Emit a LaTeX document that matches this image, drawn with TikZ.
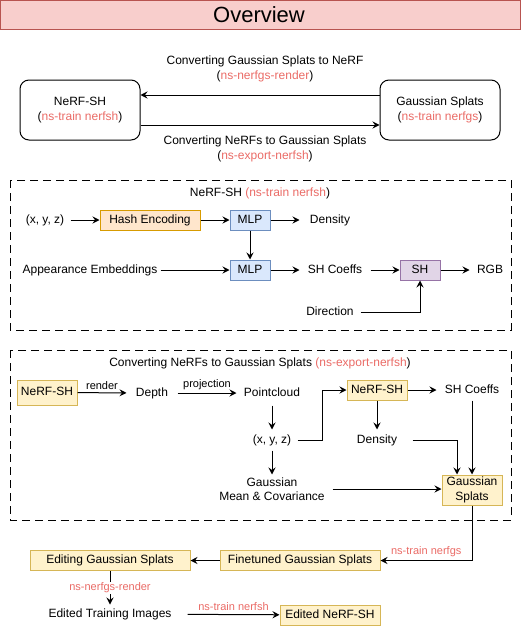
\documentclass[tikz,border=0pt]{standalone}
\usepackage{fontspec}
\setmainfont{Liberation Sans}
\usetikzlibrary{arrows.meta,positioning}

\definecolor{nsred}{HTML}{EA6B66}
\definecolor{titlefill}{HTML}{F8CECC}
\definecolor{titledraw}{HTML}{B85450}
\definecolor{orangefill}{HTML}{FFE6CC}
\definecolor{orangedraw}{HTML}{D79B00}
\definecolor{bluefill}{HTML}{DAE8FC}
\definecolor{bluedraw}{HTML}{6C8EBF}
\definecolor{purplefill}{HTML}{E1D5E7}
\definecolor{purpledraw}{HTML}{9673A6}
\definecolor{yellowfill}{HTML}{FFF2CC}
\definecolor{yellowdraw}{HTML}{D6B656}

\newcommand{\cmd}[1]{\textcolor{nsred}{#1}}

\tikzset{
  txt/.style={inner sep=0pt, align=center, font=\fontsize{12}{14.4}\selectfont,
    text height=0.905em, text depth=0.212em},
  twoline/.style={inner sep=0pt, align=center, font=\fontsize{12}{14.4}\selectfont,
    text height=, text depth=},
  lbl/.style={inner sep=0pt, font=\fontsize{11}{13}\selectfont, text=nsred},
  box/.style={txt, draw, minimum height=20pt},
  roundbox/.style={twoline, draw, rounded corners=9pt, minimum width=120pt, minimum height=60pt},
  hashbox/.style={box, fill=orangefill, draw=orangedraw},
  mlpbox/.style={box, fill=bluefill, draw=bluedraw},
  shbox/.style={box, fill=purplefill, draw=purpledraw},
  nerfbox/.style={box, fill=yellowfill, draw=yellowdraw},
  dashbox/.style={draw, dash pattern=on 8pt off 5pt},
  arr/.style={-{Stealth[length=7pt, width=7pt, inset=2.5pt]}, line width=1pt},
}

\begin{document}
\begin{tikzpicture}[x=1pt, y=-1pt, line width=1pt]
    \useasboundingbox (0,0) rectangle (521,626);

    % title bar
    \draw[fill=titlefill, draw=titledraw] (0.5,0.5) rectangle (520,30);
    \node[inner sep=0pt, font=\fontsize{22}{26}\selectfont] (overview) at (259,15) {Overview};

    % overview
    \node[roundbox] (nerfsh) at (80,110) {NeRF-SH\\(\cmd{ns-train nerfsh})};
    \node[roundbox] (gs) at (440,110) {Gaussian Splats\\(\cmd{ns-train nerfgs})};
    \node[twoline] (togslbl) at (265,69) {Converting Gaussian Splats to NeRF\\(\cmd{ns-nerfgs-render})};
    \node[twoline] (tonerflbl) at (265,149) {Converting NeRFs to Gaussian Splats\\(\cmd{ns-export-nerfsh})};
    \draw[arr] ([yshift=15pt]gs.west) -- ([yshift=15pt]nerfsh.east);
    \draw[arr] ([yshift=-15pt]nerfsh.east) -- ([yshift=-15pt]gs.west);

    % NeRF-SH
    \draw[dashbox] (10,180) rectangle (511,330);
    \node[txt] (nerfshtitle) at (260,193) {NeRF-SH \cmd{(ns-train nerfsh})};
    \node[txt, minimum width=50pt] (xyzA) at (45,220) {(x, y, z)};
    \node[hashbox, minimum width=100pt] (hash) at (150,220) {Hash Encoding};
    \node[mlpbox, minimum width=40pt] (mlpA) at (250,220) {MLP};
    \node[txt, minimum width=60pt] (densA) at (330,220) {Density};
    \node[txt, minimum width=140pt] (appear) at (90,270) {Appearance Embeddings};
    \node[mlpbox, minimum width=40pt] (mlpB) at (250,270) {MLP};
    \node[txt, minimum width=70pt] (shcA) at (335,270) {SH Coeffs};
    \node[shbox, minimum width=40pt] (sh) at (420,270) {SH};
    \node[txt, minimum width=40pt] (rgb) at (490,270) {RGB};
    \node[txt, minimum width=60pt] (dir) at (330,312) {Direction};

    \draw[arr] (xyzA) -- (hash);
    \draw[arr] (hash) -- (mlpA);
    \draw[arr] (mlpA) -- (densA);
    \draw[arr] (mlpA) -- (mlpB);
    \draw[arr] (appear) -- (mlpB);
    \draw[arr] (mlpB) -- (shcA);
    \draw[arr] (shcA) -- (sh);
    \draw[arr] (sh) -- (rgb);
    \draw[arr] (dir.east) -| (sh.south);

    % Converting NeRFs to Gaussian Splats
    \draw[dashbox] (10,350) rectangle (511,520);
    \node[txt] (exporttitle) at (260,363) {Converting NeRFs to Gaussian Splats \cmd{(ns-export-nerfsh})};
    \node[nerfbox, minimum width=60pt, minimum height=25pt] (nerfA) at (47,392.5) {NeRF-SH};
    \node[txt, minimum width=50pt] (depth) at (152,393) {Depth};
    \node[txt, minimum width=70pt, minimum height=24pt] (pcd) at (272,393) {Pointcloud};
    \node[txt, minimum width=50pt, minimum height=20pt] (xyzB) at (272,440) {(x, y, z)};
    \node[twoline, minimum width=120pt, minimum height=28pt] (meancov) at (272,489) {Gaussian\\Mean \& Covariance};
    \node[nerfbox, minimum width=60pt] (nerfB) at (377,390) {NeRF-SH};
    \node[txt, minimum width=70pt, minimum height=20pt] (shcB) at (472,390) {SH Coeffs};
    \node[txt, minimum width=70pt, minimum height=20pt] (densB) at (377,440) {Density};
    \node[nerfbox, twoline, minimum width=60pt, minimum height=30pt] (gsB) at (472,490) {Gaussian\\Splats};

    \path[arr] (nerfA) edge node[lbl, text=black, above=3pt] {render} (depth);
    \path[arr] (depth) edge node[lbl, text=black, above=3pt] {projection} (pcd);
    \draw[arr] (pcd) -- (xyzB);
    \draw[arr] (xyzB) -- (meancov);
    \draw[arr] (xyzB.east) -- ++(25,0) |- (nerfB.west);
    \draw[arr] (nerfB) -- (shcB);
    \draw[arr] (nerfB) -- (densB);
    \draw[arr] (densB.east) -| ([xshift=-15pt]gsB.north);
    \draw[arr] (shcB) -- (gsB);
    \draw[arr] (meancov.east) -- (meancov.east -| gsB.west);

    % editing
    \node[nerfbox, minimum width=160pt] (fine) at (300,560.5) {Finetuned Gaussian Splats};
    \node[nerfbox, minimum width=160pt] (edit) at (110,560.5) {Editing Gaussian Splats};
    \node[txt, minimum width=154pt, minimum height=18pt] (imgs) at (110,614) {Edited Training Images};
    \node[nerfbox, minimum width=100pt] (enerf) at (330,615) {Edited NeRF-SH};

    \draw[arr] (gsB.south) |- (fine.east) node[lbl, pos=0.75, above=3pt] {ns-train nerfgs};
    \draw[arr] (fine) -- (edit);
    \path[arr] (edit) edge node[lbl, fill=white, inner sep=1pt] {ns-nerfgs-render} (imgs);
    \path[arr] (imgs) edge node[lbl, above=3pt] {ns-train nerfsh} (enerf);
\end{tikzpicture}
\end{document}
